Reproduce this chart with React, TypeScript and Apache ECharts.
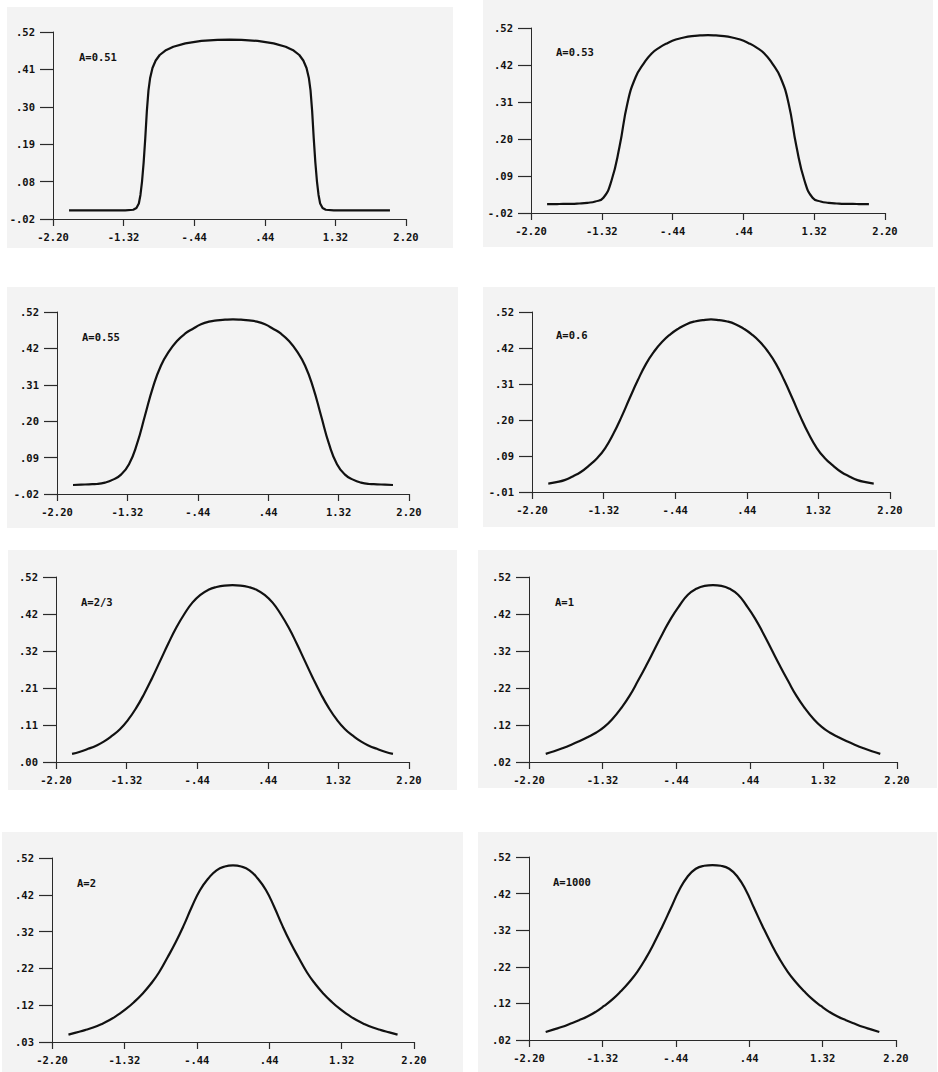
import React, { useEffect, useRef } from "react";
import * as echarts from "echarts";

// ---- data ----
const X = [-2.0, -1.9, -1.8, -1.7, -1.6, -1.5, -1.4, -1.3, -1.2, -1.1, -1.0, -0.9, -0.8, -0.7, -0.6, -0.5, -0.4, -0.3, -0.2, -0.1, 0,
  0.1, 0.2, 0.3, 0.4, 0.5, 0.6, 0.7, 0.8, 0.9, 1.0, 1.1, 1.2, 1.3, 1.4, 1.5, 1.6, 1.7, 1.8, 1.9, 2.0];

// A=0.51 is very steep, so it gets its own denser grid
const X_A051 = [-2.0, -1.6, -1.3, -1.2, -1.16, -1.13, -1.11, -1.09, -1.07, -1.05, -1.03, -1.01, -0.99, -0.96, -0.92, -0.87, -0.8, -0.7, -0.55, -0.35, -0.15, 0,
  0.15, 0.35, 0.55, 0.7, 0.8, 0.87, 0.92, 0.96, 0.99, 1.01, 1.03, 1.05, 1.07, 1.09, 1.11, 1.13, 1.16, 1.2, 1.3, 1.6, 2.0];
const Y_A051 = [0.0, 0.0, 0.0, 0.002, 0.007, 0.02, 0.045, 0.085, 0.14, 0.21, 0.29, 0.35, 0.385, 0.415, 0.437, 0.453, 0.466, 0.477, 0.487, 0.494, 0.497, 0.498,
  0.497, 0.494, 0.487, 0.477, 0.466, 0.453, 0.437, 0.415, 0.385, 0.35, 0.29, 0.21, 0.14, 0.085, 0.045, 0.02, 0.007, 0.002, 0.0, 0.0, 0.0];

const Y_A053 = [0.001, 0.001, 0.002, 0.002, 0.003, 0.005, 0.009, 0.02, 0.07, 0.17, 0.30, 0.375, 0.415, 0.445, 0.463, 0.476, 0.486, 0.492, 0.496, 0.498, 0.499,
  0.498, 0.496, 0.492, 0.486, 0.476, 0.463, 0.445, 0.415, 0.375, 0.30, 0.17, 0.07, 0.02, 0.009, 0.005, 0.003, 0.002, 0.002, 0.001, 0.001];
const Y_A055 = [0.002, 0.003, 0.004, 0.005, 0.009, 0.018, 0.033, 0.064, 0.125, 0.21, 0.295, 0.36, 0.402, 0.433, 0.455, 0.47, 0.483, 0.491, 0.495, 0.497, 0.498,
  0.497, 0.495, 0.491, 0.483, 0.47, 0.455, 0.433, 0.402, 0.36, 0.295, 0.21, 0.125, 0.064, 0.033, 0.018, 0.009, 0.005, 0.004, 0.003, 0.002];
const Y_A06 = [0.013, 0.017, 0.023, 0.034, 0.047, 0.066, 0.088, 0.118, 0.16, 0.21, 0.265, 0.318, 0.366, 0.403, 0.432, 0.454, 0.471, 0.484, 0.492, 0.496, 0.498,
  0.496, 0.492, 0.484, 0.471, 0.454, 0.432, 0.403, 0.366, 0.318, 0.265, 0.21, 0.16, 0.118, 0.088, 0.066, 0.047, 0.034, 0.023, 0.017, 0.013];
const Y_A23 = [0.023, 0.029, 0.037, 0.046, 0.058, 0.074, 0.093, 0.119, 0.152, 0.192, 0.237, 0.285, 0.333, 0.378, 0.416, 0.448, 0.47, 0.484, 0.492, 0.496, 0.497,
  0.496, 0.492, 0.484, 0.47, 0.448, 0.416, 0.378, 0.333, 0.285, 0.237, 0.192, 0.152, 0.119, 0.093, 0.074, 0.058, 0.046, 0.037, 0.029, 0.023];
const Y_A1 = [0.042, 0.049, 0.057, 0.066, 0.076, 0.087, 0.099, 0.115, 0.137, 0.165, 0.198, 0.238, 0.28, 0.324, 0.368, 0.409, 0.443, 0.472, 0.488, 0.496, 0.498,
  0.496, 0.488, 0.472, 0.443, 0.409, 0.368, 0.324, 0.28, 0.238, 0.198, 0.165, 0.137, 0.115, 0.099, 0.087, 0.076, 0.066, 0.057, 0.049, 0.042];
const Y_A2 = [0.045, 0.051, 0.057, 0.064, 0.073, 0.084, 0.098, 0.114, 0.133, 0.155, 0.181, 0.212, 0.251, 0.292, 0.338, 0.389, 0.434, 0.465, 0.487, 0.497, 0.5,
  0.497, 0.487, 0.465, 0.434, 0.389, 0.338, 0.292, 0.251, 0.212, 0.181, 0.155, 0.133, 0.114, 0.098, 0.084, 0.073, 0.064, 0.057, 0.051, 0.045];
const Y_A1000 = [0.042, 0.049, 0.056, 0.065, 0.074, 0.084, 0.097, 0.113, 0.131, 0.153, 0.178, 0.207, 0.243, 0.285, 0.331, 0.38, 0.429, 0.466, 0.488, 0.496, 0.498,
  0.496, 0.488, 0.466, 0.429, 0.38, 0.331, 0.285, 0.243, 0.207, 0.178, 0.153, 0.131, 0.113, 0.097, 0.084, 0.074, 0.065, 0.056, 0.049, 0.042];

const PANEL_LABELS = ["A=0.51", "A=0.53", "A=0.55", "A=0.6", "A=2/3", "A=1", "A=2", "A=1000"];

// x ticks: -2.20 .. 2.20, five equal steps
const X_MIN = -2.2;
const X_MAX = 2.2;
const X_TICK_LABELS = ["-2.20", "-1.32", "-.44", ".44", "1.32", "2.20"];

// y tick labels, bottom to top (five equal steps from Y_MIN to Y_MAX)
const Y_TICK_LABELS = [
  ["-.02", ".08", ".19", ".30", ".41", ".52"],
  ["-.02", ".09", ".20", ".31", ".42", ".52"],
  ["-.02", ".09", ".20", ".31", ".42", ".52"],
  ["-.01", ".09", ".20", ".31", ".42", ".52"],
  [".00", ".11", ".21", ".32", ".42", ".52"],
  [".02", ".12", ".22", ".32", ".42", ".52"],
  [".03", ".12", ".22", ".32", ".42", ".52"],
  [".02", ".12", ".22", ".32", ".42", ".52"],
];
const Y_MIN = [-0.025, -0.025, -0.025, -0.012, 0.0, 0.02, 0.025, 0.02];
const Y_MAX = 0.52;

const SERIES_X = [X_A051, X, X, X, X, X, X, X];
const SERIES_Y = [Y_A051, Y_A053, Y_A055, Y_A06, Y_A23, Y_A1, Y_A2, Y_A1000];

// ---- layout (pixels) ----
const LAYOUT = [
  { bg: [7, 7, 453, 248], left: 53, right: 406, top: 32, bottom: 219, label: [79, 57] },
  { bg: [483, 0, 933, 247], left: 531, right: 885, top: 28, bottom: 213, label: [556, 52] },
  { bg: [7, 287, 458, 528], left: 57, right: 409, top: 312, bottom: 494, label: [82, 337] },
  { bg: [483, 287, 935, 527], left: 532, right: 890, top: 312, bottom: 492, label: [556, 335] },
  { bg: [8, 550, 457, 790], left: 56, right: 409, top: 577, bottom: 762, label: [81, 602] },
  { bg: [478, 550, 937, 788], left: 529, right: 897, top: 577, bottom: 762, label: [555, 602] },
  { bg: [2, 832, 463, 1072], left: 52, right: 414, top: 858, bottom: 1042, label: [77, 883] },
  { bg: [478, 832, 937, 1072], left: 529, right: 896, top: 857, bottom: 1040, label: [553, 882] },
];
const X_TICK_LEN = 7;
const Y_TICK_LEN = 13;

const FONT_FAMILY = "DejaVu Sans Mono";
const FONT_SIZE = 10.5;
const AXIS_COLOR = "#2a2a2a";
const TEXT_COLOR = "#111";
const BG = "#f3f3f3";

export default function App() {
  const ref = useRef<HTMLDivElement>(null);
  useEffect(() => {
    if (!ref.current) return;
    const chart = echarts.init(ref.current, null, { renderer: "svg" });
    const grids: any[] = [];
    const xAxes: any[] = [];
    const yAxes: any[] = [];
    const series: any[] = [];
    const graphics: any[] = [];

    const labelFont = { color: TEXT_COLOR, fontFamily: FONT_FAMILY, fontWeight: "bold", fontSize: FONT_SIZE };
    const hiddenAxis = (gridIndex: number, min: number, max: number) => ({ type: "value", gridIndex, min, max, show: false });
    const plainGrid = (left: number, top: number, width: number, height: number) => ({
      left, top, width, height, outerBoundsMode: "none", containLabel: false,
    });

    // panel backgrounds: grids with a filled background
    LAYOUT.forEach((L) => {
      const g = grids.length;
      grids.push({
        ...plainGrid(L.bg[0], L.bg[1], L.bg[2] - L.bg[0], L.bg[3] - L.bg[1]),
        show: true,
        backgroundColor: BG,
        borderWidth: 0,
        z: -1,
      });
      xAxes.push(hiddenAxis(g, 0, 1));
      yAxes.push(hiddenAxis(g, 0, 1));
    });

    PANEL_LABELS.forEach((label, i) => {
      const L = LAYOUT[i];
      const yLabels = Y_TICK_LABELS[i];
      const W = L.right - L.left;
      const H = L.bottom - L.top;

      graphics.push({
        type: "text",
        silent: true,
        z: 10,
        x: L.label[0],
        y: L.label[1],
        style: {
          text: label,
          fill: TEXT_COLOR,
          fontFamily: FONT_FAMILY,
          fontWeight: "bold",
          fontSize: FONT_SIZE,
          verticalAlign: "middle",
          align: "left",
        },
      });

      const g = grids.length;
      grids.push(plainGrid(L.left, L.top, W, H));
      // data axes (hidden): the curve is drawn on these
      const dataX = xAxes.length;
      xAxes.push({ type: "value", gridIndex: g, min: X_MIN, max: X_MAX, show: false });
      const dataY = yAxes.length;
      yAxes.push({ type: "value", gridIndex: g, min: Y_MIN[i], max: Y_MAX, show: false });
      // labelled axes: five equal steps spanning the same extent
      xAxes.push({
        type: "value",
        gridIndex: g,
        position: "bottom",
        min: 0,
        max: 5,
        interval: 1,
        splitLine: { show: false },
        axisLine: { show: true, onZero: false, lineStyle: { color: AXIS_COLOR, width: 1 } },
        axisTick: { show: true, inside: false, length: X_TICK_LEN, lineStyle: { color: AXIS_COLOR, width: 1.2 } },
        axisLabel: { show: true, margin: 12, ...labelFont, formatter: (v: number) => X_TICK_LABELS[Math.round(v)] ?? "" },
      });
      yAxes.push({
        type: "value",
        gridIndex: g,
        position: "left",
        min: 0,
        max: 5,
        interval: 1,
        splitLine: { show: false },
        axisLine: { show: true, onZero: false, lineStyle: { color: AXIS_COLOR, width: 1 } },
        axisTick: { show: true, inside: false, length: Y_TICK_LEN, lineStyle: { color: AXIS_COLOR, width: 1.2 } },
        axisLabel: { show: true, margin: 18, ...labelFont, formatter: (v: number) => yLabels[Math.round(v)] ?? "" },
      });

      const xs = SERIES_X[i];
      const ys = SERIES_Y[i];
      series.push({
        type: "line",
        name: label,
        xAxisIndex: dataX,
        yAxisIndex: dataY,
        data: xs.map((x, j) => [x, ys[j]]),
        showSymbol: false,
        symbol: "none",
        smooth: i === 0 ? false : true,
        lineStyle: { color: "#111", width: 2.2 },
        z: 5,
      });
    });

    chart.setOption({
      animation: false,
      backgroundColor: "#ffffff",
      grid: grids,
      xAxis: xAxes,
      yAxis: yAxes,
      series,
      graphic: graphics,
    });
    return () => chart.dispose();
  }, []);

  return <div ref={ref} style={{ position: "absolute", left: 0, top: 0, width: 938, height: 1072 }} />;
}
